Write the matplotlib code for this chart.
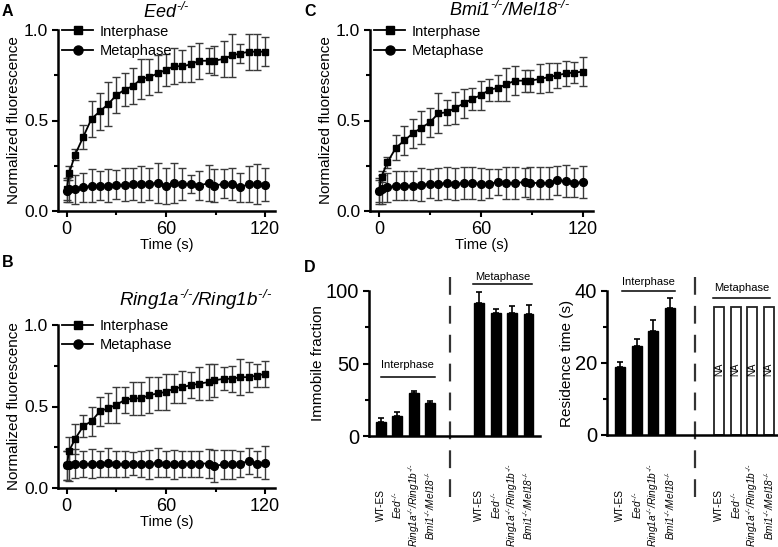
import matplotlib
matplotlib.use("Agg")
import matplotlib.pyplot as plt
from matplotlib.lines import Line2D
import matplotlib.transforms as mtransforms
from matplotlib.ticker import MultipleLocator

plt.rcParams['font.family'] = ['Liberation Sans', 'DejaVu Sans']
plt.rcParams['mathtext.fontset'] = 'custom'
plt.rcParams['mathtext.rm'] = 'Liberation Sans:italic'
plt.rcParams['mathtext.it'] = 'Liberation Sans:italic'
plt.rcParams['mathtext.bf'] = 'Liberation Sans:bold'

# ---------------- data ----------------
times = [0, 1.5, 5, 10, 15, 20, 25, 30, 35, 40, 45, 50, 55, 60, 65, 70, 75, 80,
         86, 89, 95, 100, 105, 110, 115, 120]
series_labels = ['Interphase', 'Metaphase']

eed_inter = [0.12, 0.21, 0.31, 0.41, 0.51, 0.55, 0.59, 0.64, 0.67, 0.69, 0.73, 0.74, 0.76,
             0.78, 0.80, 0.80, 0.81, 0.83, 0.83, 0.83, 0.84, 0.86, 0.87, 0.88, 0.88, 0.88]
eed_inter_err = [0.06, 0.04, 0.03, 0.065, 0.10, 0.10, 0.12, 0.10, 0.09, 0.10, 0.11, 0.10, 0.10,
                 0.09, 0.10, 0.09, 0.10, 0.10, 0.07, 0.08, 0.10, 0.12, 0.05, 0.10, 0.10, 0.08]
eed_meta = [0.11, 0.12, 0.12, 0.13, 0.14, 0.14, 0.14, 0.145, 0.145, 0.15, 0.15, 0.15, 0.155,
            0.14, 0.155, 0.15, 0.15, 0.14, 0.155, 0.14, 0.15, 0.15, 0.13, 0.15, 0.15, 0.145]
eed_meta_err = [0.06, 0.07, 0.08, 0.08, 0.09, 0.08, 0.09, 0.08, 0.09, 0.09, 0.10, 0.09, 0.11,
                0.10, 0.11, 0.09, 0.05, 0.08, 0.10, 0.09, 0.08, 0.09, 0.08, 0.10, 0.11, 0.09]

ring_inter = [0.14, 0.23, 0.30, 0.38, 0.41, 0.47, 0.49, 0.51, 0.54, 0.55, 0.55, 0.57, 0.58,
              0.59, 0.61, 0.62, 0.63, 0.64, 0.65, 0.66, 0.67, 0.67, 0.68, 0.68, 0.69, 0.70]
ring_inter_err = [0.09, 0.08, 0.09, 0.07, 0.09, 0.09, 0.09, 0.11, 0.08, 0.10, 0.10, 0.11, 0.10,
                  0.11, 0.09, 0.10, 0.08, 0.10, 0.11, 0.10, 0.07, 0.08, 0.11, 0.09, 0.07, 0.08]
ring_meta = [0.14, 0.14, 0.15, 0.145, 0.15, 0.15, 0.155, 0.145, 0.145, 0.15, 0.145, 0.145, 0.155,
             0.145, 0.145, 0.15, 0.15, 0.15, 0.15, 0.135, 0.145, 0.145, 0.15, 0.165, 0.15, 0.155]
ring_meta_err = [0.09, 0.10, 0.09, 0.08, 0.09, 0.08, 0.09, 0.08, 0.08, 0.07, 0.08, 0.09, 0.09,
                 0.08, 0.09, 0.08, 0.08, 0.08, 0.09, 0.10, 0.09, 0.09, 0.08, 0.08, 0.08, 0.10]

bmi_inter = [0.11, 0.19, 0.27, 0.35, 0.39, 0.43, 0.46, 0.49, 0.54, 0.545, 0.57, 0.595, 0.62,
             0.64, 0.67, 0.68, 0.70, 0.72, 0.72, 0.72, 0.73, 0.74, 0.75, 0.76, 0.765, 0.77]
bmi_inter_err = [0.06, 0.03, 0.03, 0.07, 0.08, 0.08, 0.09, 0.08, 0.11, 0.07, 0.09, 0.08, 0.06,
                 0.08, 0.06, 0.07, 0.09, 0.08, 0.06, 0.06, 0.08, 0.08, 0.07, 0.07, 0.06, 0.08]
bmi_meta = [0.11, 0.12, 0.13, 0.14, 0.14, 0.14, 0.145, 0.15, 0.15, 0.155, 0.15, 0.155, 0.155,
            0.15, 0.15, 0.16, 0.155, 0.155, 0.16, 0.155, 0.155, 0.155, 0.17, 0.165, 0.155, 0.16]
bmi_meta_err = [0.07, 0.08, 0.08, 0.08, 0.08, 0.08, 0.09, 0.08, 0.09, 0.09, 0.09, 0.09, 0.09,
                0.09, 0.08, 0.07, 0.09, 0.09, 0.08, 0.09, 0.09, 0.09, 0.08, 0.09, 0.08, 0.09]

panel_titles = [r'$\mathit{Eed}^{\text{-/-}}$',
                r'$\mathit{Ring1a}^{\text{-/-}}\mathit{/Ring1b}^{\text{-/-}}$',
                r'$\mathit{Bmi1}^{\text{-/-}}\mathit{/Mel18}^{\text{-/-}}$']

bar_labels = ['WT-ES', r'$\mathit{Eed}^{\text{-/-}}$',
              r'$\mathit{Ring1a}^{\text{-/-}}\mathit{/Ring1b}^{\text{-/-}}$',
              r'$\mathit{Bmi1}^{\text{-/-}}\mathit{/Mel18}^{\text{-/-}}$']
group_labels = ['Interphase', 'Metaphase']
inter_pos = [0, 1, 2, 3]
meta_pos = [6, 7, 8, 9]

immobile_inter = [10, 14, 30, 23]
immobile_inter_err = [2.2, 2.3, 1.2, 1.2]
immobile_meta = [92, 85, 85, 84]
immobile_meta_err = [7.5, 2.3, 4.5, 6.3]

res_inter = [19, 24.8, 29, 35.3]
res_inter_err = [1.2, 1.8, 2.9, 2.7]
res_meta_na = [35.5, 35.5, 35.5, 35.5]
na_text = 'NA'

# ---------------- figure ----------------
W, H = 778, 547
fig = plt.figure(figsize=(W / 100, H / 100), dpi=100)
fig.patch.set_facecolor('white')


def add_ax(l, t, r, b):
    return fig.add_axes([l / W, 1 - b / H, (r - l) / W, (b - t) / H])


def style_axes(ax):
    for s in ['top', 'right']:
        ax.spines[s].set_visible(False)
    for s in ['left', 'bottom']:
        ax.spines[s].set_linewidth(1.8)
    ax.tick_params(which='major', direction='out', length=4.5, width=1.5, pad=2.5)
    ax.tick_params(which='minor', direction='out', length=3, width=1.5)


def recovery_panel(ax, inter, inter_err, meta, meta_err, legend_anchor):
    style_axes(ax)
    ax.errorbar(times, inter, yerr=inter_err, fmt='-', color='black', lw=1.3,
                ecolor='#3a3a3a', elinewidth=1.0, capsize=2.6, capthick=1.0,
                marker='s', markersize=4.8, zorder=3, clip_on=False)
    ax.errorbar(times, meta, yerr=meta_err, fmt='-', color='black', lw=1.3,
                ecolor='#3a3a3a', elinewidth=1.0, capsize=2.6, capthick=1.0,
                marker='o', markersize=5.6, zorder=3, clip_on=False)
    ax.set_xlim(-5.3, 126)
    ax.set_ylim(0, 1.0)
    ax.set_xticks([0, 60, 120])
    ax.xaxis.set_minor_locator(MultipleLocator(30))
    ax.set_yticks([0.0, 0.5, 1.0])
    ax.set_yticklabels(['0.0', '0.5', '1.0'])
    ax.yaxis.set_minor_locator(MultipleLocator(0.25))
    ax.tick_params(axis='x', labelsize=13)
    ax.tick_params(axis='y', labelsize=12.5)
    ax.set_xlabel('Time (s)', fontsize=10.5, labelpad=0.5)
    ax.set_ylabel('Normalized fluorescence', fontsize=11, labelpad=2)
    handles = [Line2D([], [], color='black', lw=1.3, marker='s', markersize=5.5),
               Line2D([], [], color='black', lw=1.3, marker='o', markersize=6.5)]
    ax.legend(handles, series_labels, loc='upper left', bbox_to_anchor=legend_anchor,
              frameon=False, fontsize=10.5, handlelength=2.1, handletextpad=0.45,
              labelspacing=0.35, borderpad=0, borderaxespad=0)


axA = add_ax(58, 30, 275, 211)
recovery_panel(axA, eed_inter, eed_inter_err, eed_meta, eed_meta_err, (0.02, 1.03))
axB = add_ax(58, 325, 275, 488)
recovery_panel(axB, ring_inter, ring_inter_err, ring_meta, ring_meta_err, (0.02, 1.035))
axC = add_ax(370, 30, 593, 211)
recovery_panel(axC, bmi_inter, bmi_inter_err, bmi_meta, bmi_meta_err, (0.02, 1.03))

fig.text(166 / W, 1 - 12 / H, panel_titles[0], fontsize=13, ha='center', va='center')
fig.text(272 / W, 1 - 300 / H, panel_titles[1], fontsize=13.5, ha='right', va='center')
fig.text(510 / W, 1 - 10 / H, panel_titles[2], fontsize=13, ha='center', va='center')

for lab, (x, y) in zip(['A', 'B', 'C', 'D'], [(2, 12), (2, 263), (304, 12), (304, 268)]):
    fig.text(x / W, 1 - y / H, lab, fontsize=11.5, fontweight='bold', ha='left', va='center')


def bar_panel(ax, inter, inter_err, ylim, yticks, minor, ylabel, xlim, dash_x,
              label_y, inter_lab, meta_lab, meta=None, meta_err=None, na=None):
    style_axes(ax)
    ax.bar(inter_pos, inter, width=0.6, color='black', edgecolor='black', zorder=2)
    ax.errorbar(inter_pos, inter, yerr=[[0] * len(inter), inter_err], fmt='none',
                ecolor='black', elinewidth=1.2, capsize=2.5, capthick=1.2, zorder=3)
    if meta is not None:
        ax.bar(meta_pos, meta, width=0.6, color='black', edgecolor='black', zorder=2)
        ax.errorbar(meta_pos, meta, yerr=[[0] * len(meta), meta_err], fmt='none',
                    ecolor='black', elinewidth=1.2, capsize=2.5, capthick=1.2, zorder=3,
                    clip_on=False)
    if na is not None:
        ax.bar(meta_pos, na, width=0.6, color='white', edgecolor='#222222', lw=1.3, zorder=2)
        for p in meta_pos:
            ax.text(p, 18.3, na_text, rotation=90, ha='center', va='center', fontsize=7,
                    zorder=4)
    ax.set_xlim(*xlim)
    ax.set_ylim(*ylim)
    ax.set_yticks(yticks)
    ax.yaxis.set_minor_locator(MultipleLocator(minor))
    ax.set_xticks([])
    ax.tick_params(axis='y', labelsize=14.5)
    ax.set_ylabel(ylabel, fontsize=11, labelpad=1)
    trans = mtransforms.blended_transform_factory(ax.transData, ax.transAxes)
    for p, lab in zip(inter_pos + meta_pos, bar_labels + bar_labels):
        ax.text(p, label_y, lab, rotation=90, ha='center', va='center', fontsize=7.3,
                transform=trans)
    ax.plot([dash_x, dash_x], [1.10, -0.46], transform=trans, color='#333333', lw=1.6,
            ls=(0, (8, 5)), clip_on=False)
    (tx, ty, lx0, lx1, ly) = inter_lab
    ax.text(tx, ty, group_labels[0], ha='center', va='center', fontsize=8)
    ax.plot([lx0, lx1], [ly, ly], color='black', lw=1.1, clip_on=False)
    (tx, ty, lx0, lx1, ly) = meta_lab
    ax.text(tx, ty, group_labels[1], ha='center', va='center', fontsize=8, clip_on=False)
    ax.plot([lx0, lx1], [ly, ly], color='black', lw=1.1, clip_on=False)


axD1 = add_ax(369, 291, 540, 436)
bar_panel(axD1, immobile_inter, immobile_inter_err, (0, 100), [0, 50, 100], 25,
          'Immobile fraction', (-0.73, 9.7), 4.2, -0.476,
          (1.6, 49, 0.0, 3.3, 40.5), (7.4, 110, 5.6, 9.2, 104.5),
          meta=immobile_meta, meta_err=immobile_meta_err)

axD2 = add_ax(607, 291, 777, 435)
bar_panel(axD2, res_inter, res_inter_err, (0, 40), [0, 20, 40], 10,
          'Residence time (s)', (-0.8, 9.5), 4.55, -0.486,
          (1.7, 42.6, 0.1, 3.3, 40.0), (7.35, 40.9, 5.6, 9.1, 38.1),
          na=res_meta_na)

fig.savefig('out.png', dpi=100, facecolor='white')
